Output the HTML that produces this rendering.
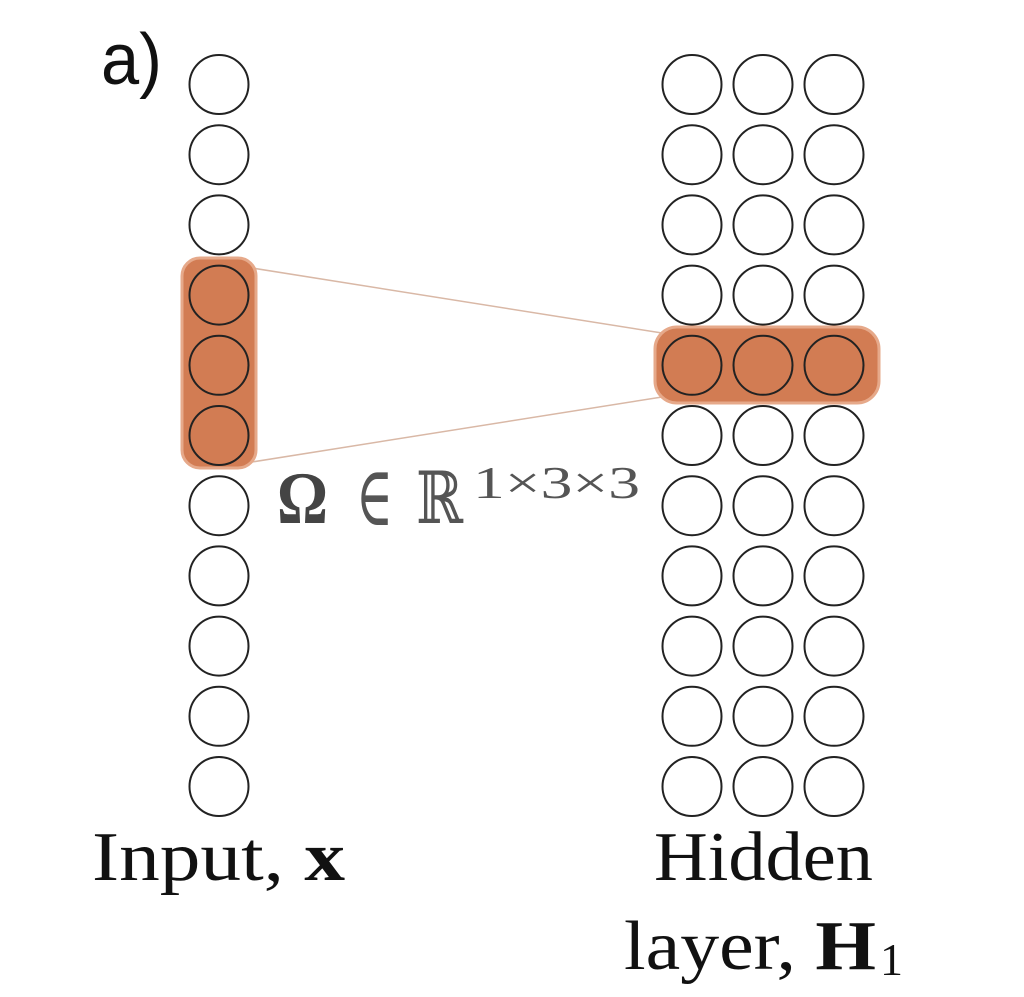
<!DOCTYPE html>
<html><head><meta charset="utf-8"><style>
html,body{margin:0;padding:0;background:#fff;}
svg{display:block;}
</style></head><body>
<svg id="fig" width="1024" height="997" viewBox="0 0 1024 997" xmlns="http://www.w3.org/2000/svg">
<text x="101" y="84" font-family="Liberation Sans, sans-serif" font-size="72" fill="#111" textLength="61" lengthAdjust="spacingAndGlyphs">a)</text>
<line x1="252" y1="268" x2="662" y2="333" stroke="#d9b8a6" stroke-width="1.5"/>
<line x1="252" y1="462" x2="662" y2="397" stroke="#d9b8a6" stroke-width="1.5"/>
<rect x="182" y="258" width="74" height="210" rx="18" fill="#d27c53" stroke="#e6a98a" stroke-width="3"/>
<rect x="655" y="327" width="224" height="76" rx="22" fill="#d27c53" stroke="#e6a98a" stroke-width="3"/>
<g id="nodes"></g>
<g font-family="Liberation Serif, DejaVu Serif, serif" fill="#555">
<text x="277" y="523" font-size="74" font-weight="bold" fill="#444" textLength="51" lengthAdjust="spacingAndGlyphs">Ω</text>
<text x="356" y="525" font-size="84" textLength="37" lengthAdjust="spacingAndGlyphs">∈</text>
<text x="416" y="523" font-size="72" textLength="47" lengthAdjust="spacingAndGlyphs">ℝ</text>
<text x="473" y="498" font-size="46" textLength="167" lengthAdjust="spacingAndGlyphs">1×3×3</text>
</g>
<text x="92" y="880" font-family="Liberation Serif, serif" font-size="70" fill="#111" textLength="253" lengthAdjust="spacingAndGlyphs">Input, <tspan font-weight="bold">x</tspan></text>
<text x="654" y="880" font-family="Liberation Serif, serif" font-size="70" fill="#111" textLength="219" lengthAdjust="spacingAndGlyphs">Hidden</text>
<text x="624" y="969" font-family="Liberation Serif, serif" font-size="70" fill="#111" textLength="252" lengthAdjust="spacingAndGlyphs">layer, <tspan font-weight="bold">H</tspan></text>
<text x="880" y="975" font-family="Liberation Serif, serif" font-size="46" fill="#111">1</text>
</svg>
<script>
const rows = [0,1,2,3,4,5,6,7,8,9,10];
const inputCols = [0];
const hiddenCols = [0,1,2];
const g = document.getElementById('nodes');
const NS = 'http://www.w3.org/2000/svg';
function ry(i){return 84.5 + i*70.2;}
function addCircle(cx, cy, name){
  const c = document.createElementNS(NS,'circle');
  c.setAttribute('cx', cx); c.setAttribute('cy', cy); c.setAttribute('r', 29.5);
  c.setAttribute('fill','none'); c.setAttribute('stroke','#222'); c.setAttribute('stroke-width','2');
  
  
  g.appendChild(c);
}
rows.forEach(i=>{
  inputCols.forEach(j=>addCircle(219 + j*71, ry(i), 'input-node'));
  hiddenCols.forEach(j=>addCircle(692 + j*71, ry(i), 'hidden-node'));
});
</script>
</body></html>
